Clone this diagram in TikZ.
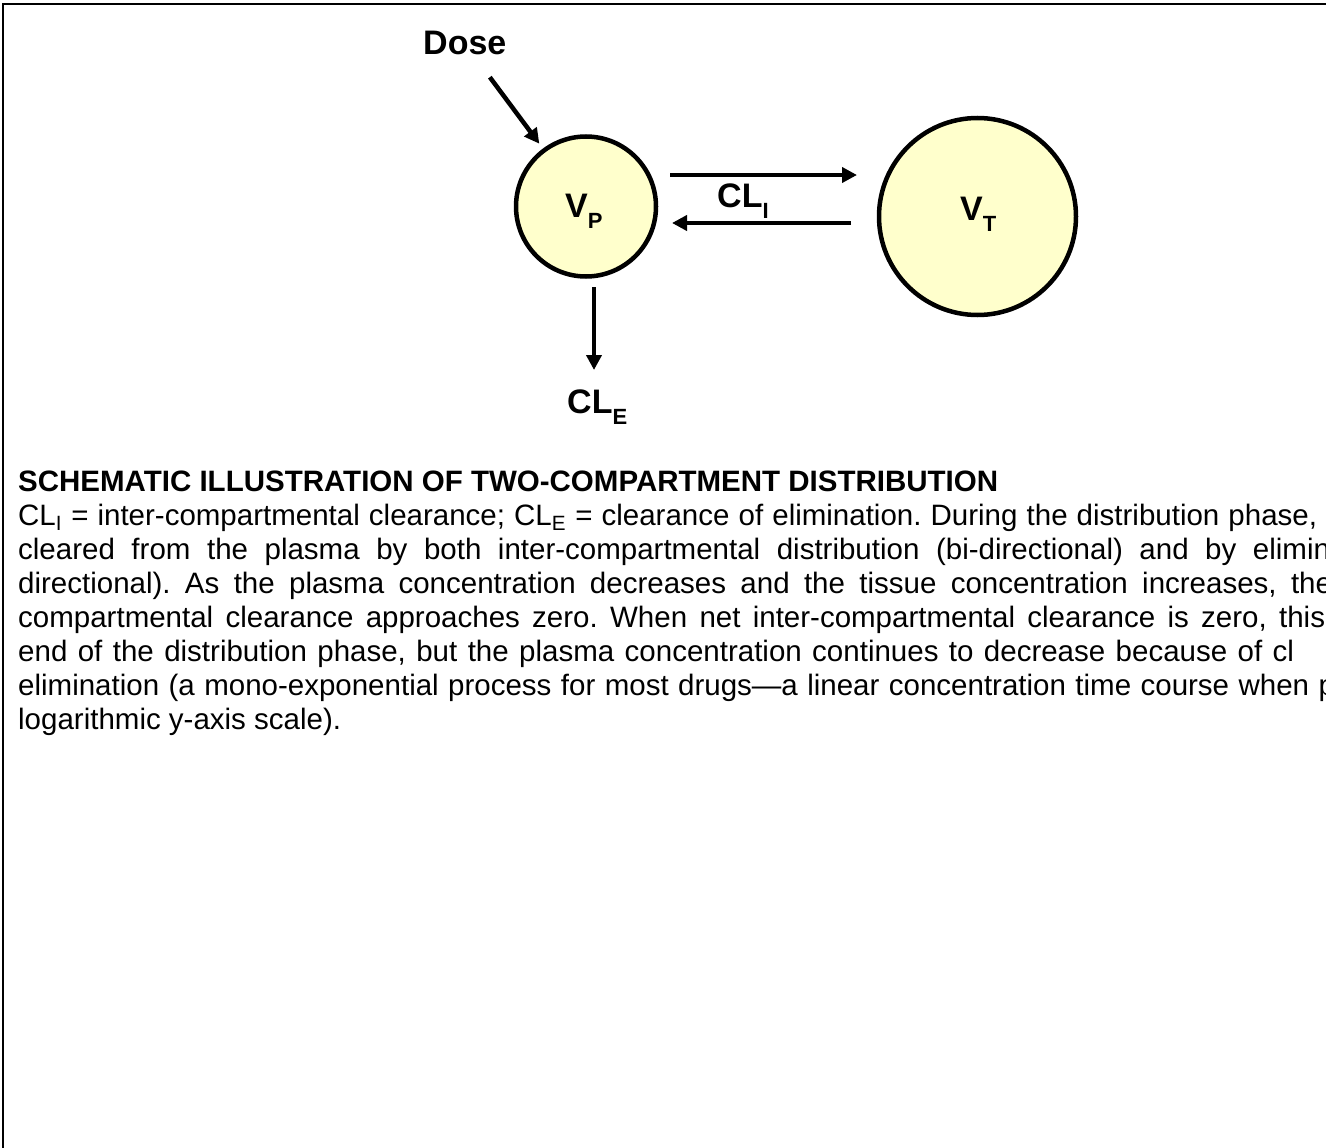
\documentclass[tikz,border=0pt]{standalone}
\usepackage{fontspec}
\setmainfont{Liberation Sans}
\usetikzlibrary{arrows.meta,calc}
\definecolor{compfill}{HTML}{FFFFCC}
\newcommand\lblsub[1]{\raisebox{-11pt}{\fontsize{22}{22}\selectfont #1}}
\tikzset{
  lbl/.style={inner sep=0pt, font=\bfseries\fontsize{34}{34}\selectfont, anchor=base west},
  comp/.style={circle, draw=black, fill=compfill, line width=4.5pt, inner sep=0pt},
  arr/.style={line width=4.5pt, -{Triangle[length=15pt,width=15pt]}},
  capline/.style={inner sep=0pt, anchor=base west, font=\frenchspacing\fontsize{29.5}{29.5}\selectfont},
  captitle/.style={inner sep=0pt, anchor=base west, font=\bfseries\fontsize{29.5}{29.5}\selectfont}
}
\begin{document}
\begin{tikzpicture}[x=1pt,y=-1pt]
\useasboundingbox (0,0) rectangle (1326,1148);
% frame
\draw[line width=2.5pt] (3,1150) -- (3,4) -- (1330,4);
% compartments
\node[comp, minimum size=140pt] (vp) at (586,206.5) {};
\node[comp, minimum size=197pt] (vt) at (977.5,216.5) {};
\node[lbl] (vplab) at (565,217) {V\lblsub{P}};
\node[lbl] (vtlab) at (960,220) {V\lblsub{T}};
\node[lbl] (dose) at (423,55) {Dose};
\node[lbl] (cli) at (717,207) {CL\lblsub{I}};
\node[lbl] (cle) at (567,413) {CL\lblsub{E}};
% connectors
\draw[arr, shorten <=27pt, shorten >=6pt] (dose) -- (vp);
\coordinate (ta) at (670,175);
\coordinate (tb) at (857,175);
\coordinate (ba) at (851,223);
\coordinate (bb) at (672,223);
\coordinate (ea) at (594,287);
\coordinate (eb) at (594,370);
\draw[arr] (ta) -- (tb);
\draw[arr] (ba) -- (bb);
\draw[arr] (ea) -- (eb);
% caption
\node[captitle] (title) at (18,491) {SCHEMATIC ILLUSTRATION OF TWO-COMPARTMENT DISTRIBUTION};
\node[capline] (l1) at (18,525) {\makebox[1299pt][s]{CL\textsubscript{I} = inter-compartmental clearance; CL\textsubscript{E} = clearance of elimination. During the distribution phase,}};
\node[capline] (l2) at (18,559) {\makebox[1312pt][s]{cleared from the plasma by both inter-compartmental distribution (bi-directional) and by elimin}};
\node[capline] (l3) at (18,593) {\makebox[1314pt][s]{directional). As the plasma concentration decreases and the tissue concentration increases, the}};
\node[capline] (l4) at (18,627) {\makebox[1307pt][s]{compartmental clearance approaches zero. When net inter-compartmental clearance is zero, this}};
\node[capline] (l5) at (18,661) {\makebox[1276pt][s]{end of the distribution phase, but the plasma concentration continues to decrease because of cl}};
\node[capline] (l6) at (18,695) {\makebox[1317pt][s]{elimination (a mono-exponential process for most drugs—a linear concentration time course when p}};
\node[capline] (l7) at (18,729) {logarithmic y-axis scale).};
\end{tikzpicture}
\end{document}
